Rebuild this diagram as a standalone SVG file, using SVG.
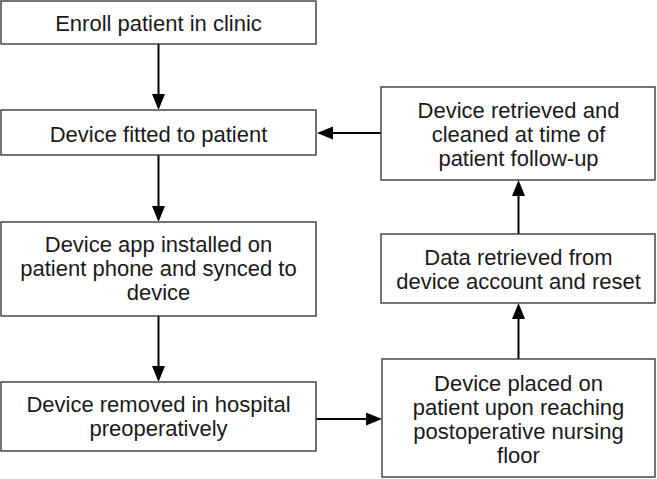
<svg xmlns="http://www.w3.org/2000/svg" width="657" height="479" viewBox="0 0 657 479">
<defs>
<style>
.box{fill:#fff;stroke:#3a3a3a;stroke-width:1.4}
.t{font-family:"Liberation Sans",Arial,Helvetica,sans-serif;font-size:22px;fill:#1a1a1a;text-anchor:middle}
.c{stroke:#000;stroke-width:2;fill:none;marker-end:url(#ah)}
</style>
<marker id="ah" markerUnits="userSpaceOnUse" markerWidth="16" markerHeight="14" refX="8" refY="6.5" orient="auto">
<path d="M0,0 L16,6.5 L0,13 z" fill="#000"/>
</marker>
</defs>
<rect width="657" height="479" fill="#fff"/>
<g id="connectors">
<line class="c" x1="158.5" y1="44" x2="158.5" y2="102"/>
<line class="c" x1="158.5" y1="155" x2="158.5" y2="214"/>
<line class="c" x1="158.5" y1="316" x2="158.5" y2="374"/>
<line class="c" x1="316" y1="419" x2="374" y2="419"/>
<line class="c" x1="518.5" y1="359" x2="518.5" y2="311"/>
<line class="c" x1="518.5" y1="234" x2="518.5" y2="188"/>
<line class="c" x1="381" y1="133" x2="325" y2="133"/>
</g>
<g id="n1">
<rect class="box" x="1" y="1" width="315" height="43"/>
<text class="t" x="158.5" y="31">Enroll patient in clinic</text>
</g>
<g id="n2">
<rect class="box" x="1" y="110" width="315" height="45"/>
<text class="t" x="158.5" y="142">Device fitted to patient</text>
</g>
<g id="n3">
<rect class="box" x="1" y="222" width="315" height="94"/>
<text class="t" x="158.5" y="252">Device app installed on</text>
<text class="t" x="158.5" y="276">patient phone and synced to</text>
<text class="t" x="158.5" y="300">device</text>
</g>
<g id="n4">
<rect class="box" x="1" y="382" width="315" height="69"/>
<text class="t" x="158.5" y="412">Device removed in hospital</text>
<text class="t" x="158.5" y="436">preoperatively</text>
</g>
<g id="n5">
<rect class="box" x="382" y="359" width="273" height="118"/>
<text class="t" x="518.5" y="391">Device placed on</text>
<text class="t" x="518.5" y="415">patient upon reaching</text>
<text class="t" x="518.5" y="439">postoperative nursing</text>
<text class="t" x="518.5" y="463">floor</text>
</g>
<g id="n6">
<rect class="box" x="381" y="234" width="274" height="69"/>
<text class="t" x="518.5" y="265">Data retrieved from</text>
<text class="t" x="518.5" y="289">device account and reset</text>
</g>
<g id="n7">
<rect class="box" x="381" y="87" width="274" height="93"/>
<text class="t" x="518.5" y="118">Device retrieved and</text>
<text class="t" x="518.5" y="142">cleaned at time of</text>
<text class="t" x="518.5" y="166">patient follow-up</text>
</g>
</svg>
